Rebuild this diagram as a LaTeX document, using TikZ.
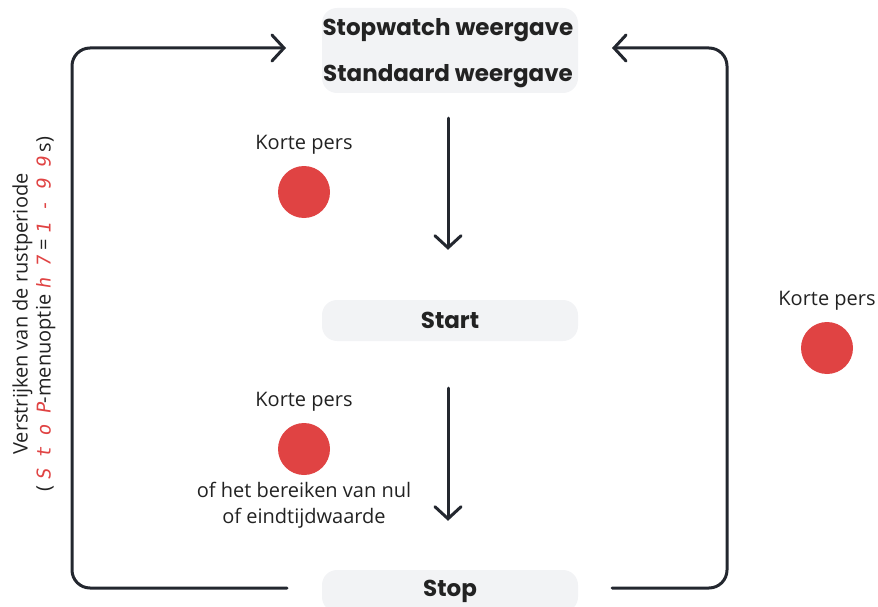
\documentclass[tikz,border=0pt]{standalone}
\usepackage{fontspec}
\setmainfont{Open Sans}
\newfontfamily\popfont{Poppins}
\usetikzlibrary{arrows.meta}
\definecolor{linecol}{HTML}{23272F}
\definecolor{boxfill}{HTML}{F2F3F5}
\definecolor{dotred}{HTML}{E04343}
\definecolor{txtcol}{HTML}{222222}
\newcommand{\segtxt}[1]{\textcolor{dotred}{\fontspec{DejaVu Sans Mono}\fontsize{19}{19}\selectfont\addfontfeatures{FakeSlant=0.15,LetterSpace=55}#1}}
\tikzset{
  statebox/.style={fill=boxfill, rounded corners=15pt, minimum width=256pt, inner sep=0pt, text=txtcol, font=\popfont\bfseries\fontsize{23}{23}\selectfont},
  titletext/.style={text=txtcol, inner sep=0pt, font=\popfont\bfseries\fontsize{23}{23}\selectfont},
  flowline/.style={draw=linecol, line width=3pt, line cap=round},
  flowarrow/.style={flowline, -{Straight Barb[length=12pt,width=26pt,line cap=round]}},
  presslabel/.style={text=txtcol, font=\fontsize{20}{26}\selectfont, align=center, inner sep=0pt},
  pressdot/.style={circle, fill=dotred, minimum size=52pt, inner sep=0pt}
}
\begin{document}
\begin{tikzpicture}[x=1pt,y=-1pt]
\useasboundingbox (0,0) rectangle (878,607);
\clip (0,0) rectangle (878,607);
% boxes
\node[statebox, minimum height=85pt] (top) at (450,50.5) {};
\node[titletext] (topa) at (448,30) {Stopwatch weergave};
\node[titletext] (topb) at (448,76) {Standaard weergave};
\node[statebox, minimum height=41pt] (start) at (450,320.5) {Start};
\node[statebox, minimum height=42pt] (stop) at (450,591) {Stop};
% press indicators
\node[presslabel] (kp1) at (304,145) {Korte pers};
\node[pressdot] (d1) at (304,192) {};
\node[presslabel] (kp2) at (304,402) {Korte pers};
\node[pressdot] (d2) at (304,449) {};
\node[presslabel] (kp2b) at (304,505) {of het bereiken van nul\\of eindtijdwaarde};
\node[presslabel] (kp3) at (827,301) {Korte pers};
\node[pressdot] (d3) at (827,348) {};
% vertical arrows
\draw[flowarrow] ([xshift=-2pt,yshift=-25pt]top.south) -- ([xshift=-2pt,yshift=50pt]start.north);
\draw[flowarrow] ([xshift=-2pt,yshift=-47pt]start.south) -- ([xshift=-2pt,yshift=49pt]stop.north);
% loops
\coordinate (ls) at (287,588);
\coordinate (lc1) at (72,588);
\coordinate (lc2) at (72,48);
\coordinate (le) at (286,48);
\draw[flowarrow, rounded corners=18pt] (ls) -- (lc1) -- (lc2) -- (le);
\coordinate (rs) at (612,588);
\coordinate (rc1) at (727,588);
\coordinate (rc2) at (727,48);
\coordinate (re) at (612,48);
\draw[flowarrow, rounded corners=18pt] (rs) -- (rc1) -- (rc2) -- (re);
% rotated label
\node[presslabel, rotate=90, font=\fontsize{20}{23}\selectfont] (rest) at (34,314)
  {Verstrijken van de rustperiode\\( \segtxt{StoP}-menuoptie \segtxt{h7} = \segtxt{1-99}\ s)};
\end{tikzpicture}
\end{document}
